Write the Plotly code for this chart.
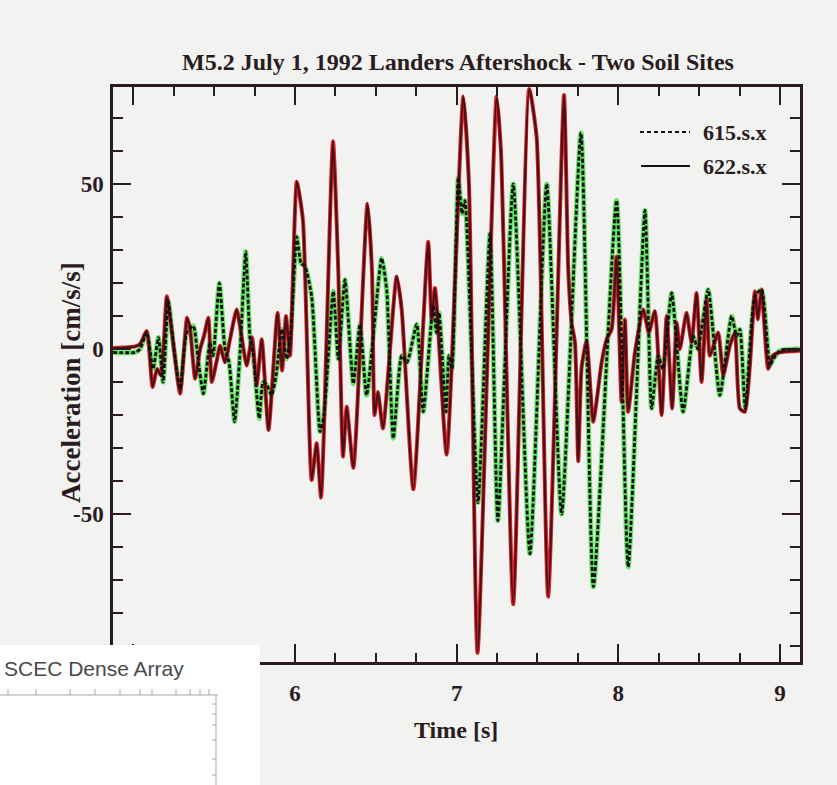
import plotly.graph_objects as go

# ---- Ground acceleration records, M5.2 Landers aftershock (1 July 1992) ----
# Station 622.s.x (solid trace): time [s] and acceleration [cm/s/s]
t_622 = [4.874, 5.011, 5.041, 5.083, 5.119, 5.147, 5.171, 5.207, 5.239, 5.289,
         5.332, 5.351, 5.382, 5.413, 5.437, 5.464, 5.485, 5.518, 5.536, 5.567,
         5.598, 5.639, 5.666, 5.701, 5.734, 5.763, 5.794, 5.836, 5.892, 5.920,
         5.944, 5.969, 6.011, 6.049, 6.103, 6.134, 6.161, 6.235, 6.268, 6.297,
         6.320, 6.361, 6.448, 6.476, 6.492, 6.513, 6.544, 6.629, 6.660, 6.732,
         6.824, 6.845, 6.866, 6.938, 7.041, 7.076, 7.129, 7.247, 7.274, 7.350,
         7.449, 7.495, 7.566, 7.664, 7.690, 7.711, 7.732, 7.752, 7.773, 7.804,
         7.845, 7.897, 7.928, 7.959, 7.989, 8.020, 8.041, 8.061, 8.103, 8.154,
         8.189, 8.226, 8.268, 8.299, 8.333, 8.361, 8.381, 8.422, 8.453, 8.484,
         8.515, 8.546, 8.566, 8.618, 8.649, 8.690, 8.721, 8.752, 8.783, 8.814,
         8.845, 8.863, 8.886, 8.927, 8.956, 8.999, 9.123]
a_622 = [0.3, 0.8, 1.5, 5.5, -11.5, -6, -8, 16, 5, -13.5,
         9.5, 6, -9, 0, 4, 9.5, -10, -3, 1, -4,
         3, 12, 5, -5, 3.5, -11, 3, -24.5, 11, -6.5,
         10, -2, 50.7, 39, -39.7, -28.5, -45, 63, 23, -32.6,
         -17.5, -36, 44, 24, -20, -13, -24, 22, 12, -42.5,
         32.5, 9, 18.5, -32, 76.5, 50, -92, 76.5, 60, -77.3,
         78.8, 64, -75, 77, 24.5, 8, 2, -34, -5.5, 2.4,
         -22, -4, 3, 6, 28, -16, 9, -19, -1, 12,
         5, 11.5, -20, 10, -18, 8, 0, 11, 2, 17,
         -10, 15, -2, 5, -8, 1, 5, -18, -19, -5,
         17.5, 9, 18, -6, -2, -1, -0.5]

# Station 615.s.x (dashed trace)
t_615 = [4.874, 5.011, 5.041, 5.083, 5.122, 5.155, 5.184, 5.216, 5.246, 5.289,
         5.330, 5.371, 5.400, 5.433, 5.474, 5.493, 5.532, 5.567, 5.592, 5.626,
         5.660, 5.695, 5.722, 5.740, 5.779, 5.802, 5.827, 5.855, 5.883, 5.918,
         5.949, 5.975, 6.011, 6.037, 6.062, 6.103, 6.155, 6.179, 6.237, 6.268,
         6.309, 6.361, 6.402, 6.443, 6.536, 6.567, 6.608, 6.660, 6.693, 6.753,
         6.793, 6.855, 6.875, 6.891, 6.934, 6.952, 6.971, 7.010, 7.033, 7.051,
         7.132, 7.206, 7.255, 7.350, 7.453, 7.557, 7.649, 7.769, 7.846, 7.989,
         8.061, 8.165, 8.206, 8.247, 8.276, 8.330, 8.401, 8.463, 8.492, 8.556,
         8.628, 8.701, 8.732, 8.752, 8.786, 8.845, 8.886, 8.938, 8.958, 8.999,
         9.123]
a_615 = [-1, -1, 0, 5, -6, 3.5, -10, 14.5, 2, -12,
         5, 7, -3, -13.5, 2, -2, 20, 0, -4, -22,
         -1, 29.5, 3, -1, -21, -10, -11, -14, -8, 6,
         -3, 6, 34, 26, 25, 16, -25, -20, 17.5, -3,
         21, -10.5, 7.5, -14, 27.5, 18, -27, -2, -4, 7.5,
         -19, 13, 5, 11, -19, -2, -6, 52, 41, 45,
         -46.5, 35, -52, 50, -62, 50, -50, 65.5, -72, 45,
         -66, 42, -18, -2, -6, 17, -19, 4, 0, 18,
         -14, 10, 4, 6, -18, 16, 18, -5, -3, -0.5,
         0]

x_tick_vals = [5, 6, 7, 8, 9]
x_tick_text = ["5", "6", "7", "8", "9"]
y_tick_vals = [-50, 0, 50]
y_tick_text = ["-50", "0", "50"]

title_text = "M5.2 July 1, 1992 Landers Aftershock - Two Soil Sites"
series_names = ["615.s.x", "622.s.x"]

# ---- page geometry (pixels) ----
W, H = 837, 785
L, R, T, B = 113, 37, 87, 123
PW, PH = W - L - R, H - T - B


def px(x):
    return (x - L) / PW


def py(y):
    return (H - B - y) / PH


INK = "#2a1c1e"
BG = "#f2f2f0"
SERIF = "Liberation Serif"

fig = go.Figure()

# coloured halos under the ink lines
fig.add_trace(go.Scatter(x=t_615, y=a_615, mode="lines", showlegend=False,
                         line=dict(color="#66e466", width=5, shape="spline", smoothing=0.55),
                         hoverinfo="skip"))
fig.add_trace(go.Scatter(x=t_622, y=a_622, mode="lines", showlegend=False,
                         line=dict(color="#d8242a", width=4, shape="spline", smoothing=0.55),
                         hoverinfo="skip"))
# ink lines
fig.add_trace(go.Scatter(x=t_622, y=a_622, mode="lines", name=series_names[1], showlegend=False,
                         line=dict(color="#4a1014", width=2.2, shape="spline", smoothing=0.55)))
fig.add_trace(go.Scatter(x=t_615, y=a_615, mode="lines", name=series_names[0], showlegend=False,
                         line=dict(color="#111111", width=2.8, dash="4px,2px",
                                   shape="spline", smoothing=0.55)))

axis_common = dict(
    showline=True, mirror="allticks", linecolor=INK, linewidth=2.5,
    ticks="inside", ticklen=18, tickwidth=2.2, tickcolor=INK,
    showgrid=False, zeroline=False,
    tickfont=dict(family=SERIF, size=23, color=INK, weight="bold"),
)

fig.update_layout(
    width=W, height=H,
    margin=dict(l=L, r=R, t=T, b=B),
    paper_bgcolor=BG, plot_bgcolor=BG,
    title=dict(text=title_text, x=458 / W, xref="container", xanchor="center",
               y=1 - 62 / H, yref="container", yanchor="middle",
               font=dict(family=SERIF, size=24, color=INK, weight="bold")),
    xaxis=dict(range=[4.874, 9.124], tickmode="array", tickvals=x_tick_vals,
               ticktext=x_tick_text, ticklabelstandoff=9,
               minor=dict(dtick=0.25, ticks="inside", ticklen=9, tickwidth=2, tickcolor=INK),
               **axis_common),
    yaxis=dict(range=[-94.8, 79.4], tickmode="array", tickvals=y_tick_vals,
               ticktext=y_tick_text, ticklabelstandoff=2,
               minor=dict(dtick=10, ticks="inside", ticklen=10, tickwidth=2, tickcolor=INK),
               **axis_common),
    showlegend=False,
)

annotations = [
    dict(text="Acceleration [cm/s/s]", x=px(71), y=py(383), xref="paper", yref="paper",
         xanchor="center", yanchor="middle", textangle=-90, showarrow=False,
         font=dict(family=SERIF, size=27, color=INK, weight="bold")),
    dict(text="Time [s]", x=px(456), y=py(730), xref="paper", yref="paper",
         xanchor="center", yanchor="middle", showarrow=False,
         font=dict(family=SERIF, size=24, color=INK, weight="bold")),
]

# legend: line samples and labels
shapes = [
    dict(type="line", xref="paper", yref="paper", x0=px(640), x1=px(690),
         y0=py(132), y1=py(132), line=dict(color="#111111", width=2, dash="4px,3px")),
    dict(type="line", xref="paper", yref="paper", x0=px(641), x1=px(690),
         y0=py(166), y1=py(166), line=dict(color="#111111", width=2)),
]
for name, yy in zip(series_names, [132, 166]):
    annotations.append(dict(text=name, x=px(701), y=py(yy), xref="paper", yref="paper",
                            xanchor="left", yanchor="middle", showarrow=False,
                            font=dict(family=SERIF, size=22, color=INK, weight="bold")))

# inset panel pasted over the lower-left corner
shapes.append(dict(type="rect", xref="paper", yref="paper", layer="above",
                   x0=px(-5), x1=px(260), y0=py(790), y1=py(645),
                   fillcolor="#ffffff", line=dict(width=0)))
shapes.append(dict(type="line", xref="paper", yref="paper", layer="above",
                   x0=px(0), x1=px(218), y0=py(695), y1=py(695),
                   line=dict(color="#a8a8a8", width=1)))
shapes.append(dict(type="line", xref="paper", yref="paper", layer="above",
                   x0=px(216), x1=px(216), y0=py(695), y1=py(790),
                   line=dict(color="#a8a8a8", width=1)))
for tx in [8, 36, 70, 95, 120, 140, 152, 176, 190, 200, 209]:
    shapes.append(dict(type="line", xref="paper", yref="paper", layer="above",
                       x0=px(tx), x1=px(tx), y0=py(695), y1=py(689),
                       line=dict(color="#a8a8a8", width=1)))
for ty in [704, 714, 725, 740, 759, 775]:
    shapes.append(dict(type="line", xref="paper", yref="paper", layer="above",
                       x0=px(212), x1=px(216), y0=py(ty), y1=py(ty),
                       line=dict(color="#a8a8a8", width=1)))
annotations.append(dict(text="SCEC Dense Array", x=px(2), y=py(668), xref="paper",
                        yref="paper", xanchor="left", yanchor="middle", showarrow=False,
                        font=dict(family="Liberation Sans", size=21, color="#4a4a4a")))

fig.update_layout(annotations=annotations, shapes=shapes)

fig.write_html("out.html")
